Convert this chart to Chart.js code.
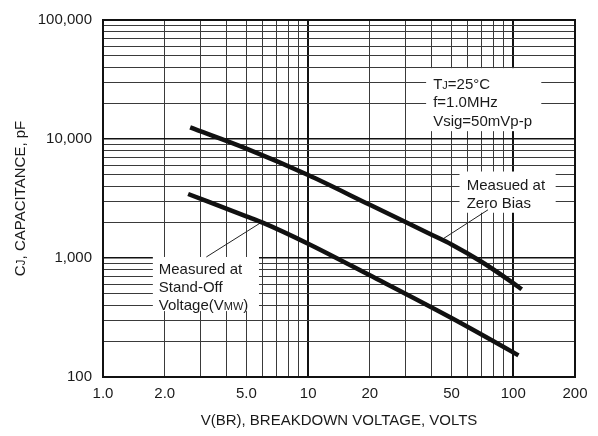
<!DOCTYPE html>
<html>
<head>
<meta charset="utf-8">
<script src="https://cdn.jsdelivr.net/npm/chart.js@4.4.1/dist/chart.umd.min.js"></script>
<style>
  html, body { margin: 0; padding: 0; background: #fff; }
</style>
</head>
<body>
<canvas id="capChart" width="598" height="436"></canvas>
<script>
// values (V(BR) in volts, Cj in pF)
const zeroBiasVolts = [2.66, 5, 10, 20, 30, 40, 50, 70, 100, 110];
const zeroBiasPf = [12500, 8300, 4980, 2800, 2000, 1570, 1300, 930, 615, 546];
const standOffVolts = [2.6, 5, 6, 10, 20, 50, 100, 106];
const standOffPf = [3450, 2240, 1985, 1320, 715, 313, 161, 152];

const xTickValues = [1, 2, 5, 10, 20, 50, 100, 200];
const xTickText = ["1.0", "2.0", "5.0", "10", "20", "50", "100", "200"];
const yTickValues = [100, 1000, 10000, 100000];
const yTickText = ["100", "1,000", "10,000", "100,000"];

// leader lines from the callouts to the curves
const zeroBiasLeader = [[45.1, 1436], [75.3, 2540]];
const standOffLeader = [[5.89, 1985], [3.19, 1020]];

const FONT = "'Liberation Sans', Arial, sans-serif";
const INK = "#1a1a1a";

// callout boxes: corners in data units, text offsets in px
const notes = [
  { box: [37.6, 39400, 137, 11640], textX: 40.7, first: 15, step: 18.5,
    lines: [[["T", 15], ["J", 11], ["=25°C", 15]], [["f=1.0MHz", 15]], [["Vsig=50mVp-p", 15]]] },
  { box: [54.7, 5330, 161, 2400], textX: 59.3, first: 13, step: 18,
    lines: [[["Measued at", 15]], [["Zero Bias", 15]]] },
  { box: [1.75, 1020, 5.76, 358], textX: 1.87, first: 12, step: 18,
    lines: [[["Measured at", 15]], [["Stand-Off", 15]], [["Voltage(V", 15], ["MW", 11], [")", 15]]] }
];

function gridValues(lo, hi) {
  const out = [];
  for (let d = lo; d < hi; d *= 10) {
    for (let m = 1; m < 10; m++) {
      const v = m * d;
      if (v <= hi) out.push(v);
    }
  }
  if (out[out.length - 1] !== hi) out.push(hi);
  return out;
}

function isDecade(v) {
  const l = Math.log10(v);
  return Math.abs(l - Math.round(l)) < 1e-9;
}

function toPoints(xs, ys) {
  return xs.map((x, i) => ({ x, y: ys[i] }));
}

function richWidth(ctx, segs) {
  let w = 0;
  for (const [t, s] of segs) {
    ctx.font = `${s}px ${FONT}`;
    w += ctx.measureText(t).width;
  }
  return w;
}

function drawRich(ctx, segs, x, yMid) {
  const base = yMid + 5.4;
  for (const [t, s] of segs) {
    ctx.font = `${s}px ${FONT}`;
    ctx.fillText(t, x, base);
    x += ctx.measureText(t).width;
  }
}

const calloutPlugin = {
  id: "callouts",
  beforeDatasetsDraw(chart) {
    const { ctx, chartArea, scales } = chart;
    ctx.save();
    ctx.textAlign = "left";
    ctx.textBaseline = "alphabetic";
    for (const n of notes) {
      const x0 = scales.x.getPixelForValue(n.box[0]);
      const y0 = scales.y.getPixelForValue(n.box[1]);
      const x1 = scales.x.getPixelForValue(n.box[2]);
      const y1 = scales.y.getPixelForValue(n.box[3]);
      ctx.fillStyle = "#fff";
      ctx.fillRect(x0, y0, x1 - x0, y1 - y0);
      ctx.fillStyle = INK;
      const tx = scales.x.getPixelForValue(n.textX);
      n.lines.forEach((segs, i) => drawRich(ctx, segs, tx, y0 + n.first + i * n.step));
    }
    // frame
    ctx.strokeStyle = "#111";
    ctx.lineWidth = 2;
    ctx.strokeRect(chartArea.left, chartArea.top, chartArea.right - chartArea.left, chartArea.bottom - chartArea.top);

    // axis titles
    ctx.fillStyle = INK;
    const xt = [["V(BR), BREAKDOWN VOLTAGE, VOLTS", 15]];
    drawRich(ctx, xt, (chartArea.left + chartArea.right) / 2 - richWidth(ctx, xt) / 2, 420);
    const yt = [["C", 15], ["J", 12], [", CAPACITANCE, pF", 15]];
    ctx.translate(20, (chartArea.top + chartArea.bottom) / 2);
    ctx.rotate(-Math.PI / 2);
    drawRich(ctx, yt, -richWidth(ctx, yt) / 2, 0);
    ctx.restore();
  }
};

function tickLabel(values, texts) {
  return (v) => {
    const i = values.findIndex((t) => Math.abs(t - v) / t < 1e-6);
    return i < 0 ? "" : texts[i];
  };
}

const curveStyle = { showLine: true, borderColor: "#111", borderWidth: 4.5, pointRadius: 0, cubicInterpolationMode: "monotone", borderCapStyle: "butt" };
const leaderStyle = { showLine: true, borderColor: "#222", borderWidth: 1, pointRadius: 0 };

new Chart(document.getElementById("capChart"), {
  type: "scatter",
  data: {
    datasets: [
      { data: toPoints(zeroBiasVolts, zeroBiasPf), ...curveStyle },
      { data: toPoints(standOffVolts, standOffPf), ...curveStyle },
      { data: zeroBiasLeader.map(([x, y]) => ({ x, y })), ...leaderStyle },
      { data: standOffLeader.map(([x, y]) => ({ x, y })), ...leaderStyle }
    ]
  },
  options: {
    responsive: false,
    animation: false,
    devicePixelRatio: 1,
    layout: { padding: { top: 14, right: 23, left: 0, bottom: 0 } },
    plugins: { legend: { display: false }, tooltip: { enabled: false } },
    scales: {
      x: {
        type: "logarithmic",
        min: 1,
        max: 200,
        afterBuildTicks: (axis) => { axis.ticks = gridValues(1, 200).map((value) => ({ value })); },
        afterFit: (axis) => { axis.height = 59; },
        border: { display: false },
        grid: {
          drawTicks: false,
          color: (c) => (isDecade(c.tick.value) ? "#111" : "#3a3a3a"),
          lineWidth: (c) => (isDecade(c.tick.value) ? 2 : 1)
        },
        ticks: {
          autoSkip: false,
          maxRotation: 0,
          padding: 8,
          color: INK,
          font: { size: 15, family: FONT },
          callback: tickLabel(xTickValues, xTickText)
        }
      },
      y: {
        type: "logarithmic",
        min: 100,
        max: 100000,
        afterBuildTicks: (axis) => { axis.ticks = gridValues(100, 100000).map((value) => ({ value })); },
        afterFit: (axis) => { axis.width = 103; },
        border: { display: false },
        grid: {
          drawTicks: false,
          color: (c) => (isDecade(c.tick.value) ? "#111" : "#3a3a3a"),
          lineWidth: (c) => (isDecade(c.tick.value) ? 1.5 : 1)
        },
        ticks: {
          autoSkip: false,
          padding: 11,
          color: INK,
          font: { size: 15, family: FONT },
          callback: tickLabel(yTickValues, yTickText)
        }
      }
    }
  },
  plugins: [calloutPlugin]
});
</script>
</body>
</html>
